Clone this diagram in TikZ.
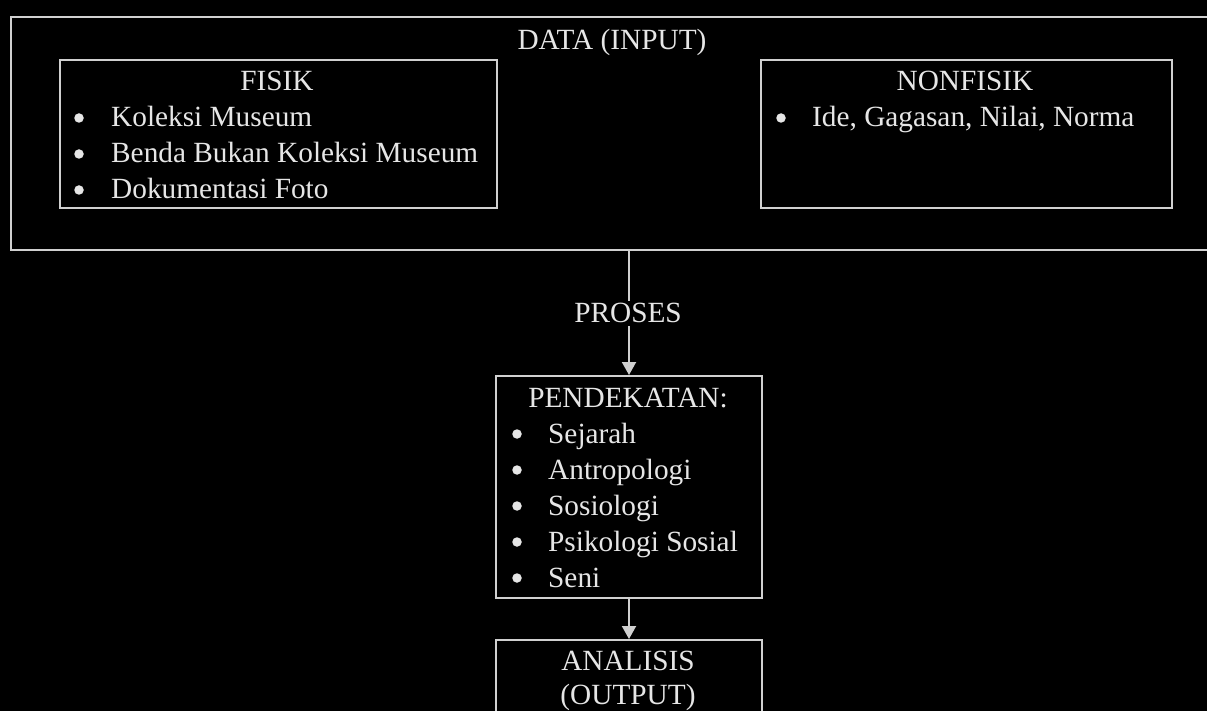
\documentclass[tikz,border=0pt]{standalone}
\usepackage{fontspec}
\setmainfont{Liberation Serif}
\usetikzlibrary{arrows.meta}
\definecolor{ln}{HTML}{D0D0D0}
\definecolor{tx}{HTML}{E6E6E6}
\tikzset{
  frame/.style={draw=ln, line width=2pt, inner sep=0pt, anchor=north west},
  txt/.style={text=tx, font=\fontsize{29.3}{36}\selectfont, inner sep=0pt},
  ctr/.style={txt, anchor=base},
  item/.style={txt, anchor=base west},
  dot/.style={circle, fill=tx, inner sep=0pt, minimum size=9.5pt},
  link/.style={draw=ln, line width=2pt},
  conn/.style={link, -{Triangle[width=14pt,length=13pt]}},
}
\begin{document}
\begin{tikzpicture}[x=1pt,y=-1pt]
\useasboundingbox[fill=black] (0,0) rectangle (1207,711);

% boxes
\node[frame, minimum width=1240pt, minimum height=233pt] (data) at (10,16) {};
\node[frame, minimum width=437pt, minimum height=148pt] (fisik) at (59,59) {};
\node[frame, minimum width=411pt, minimum height=148pt] (nonfisik) at (760,59) {};
\node[frame, minimum width=266pt, minimum height=222pt] (pend) at (495,375) {};
\node[frame, minimum width=266pt, minimum height=100pt] (anal) at (495,639) {};

% titles
\node[ctr] (datat) at (612,50) {DATA (INPUT)};
\node[ctr] (fisikt) at (277,91) {FISIK};
\node[ctr] (nonfisikt) at (965,91) {NONFISIK};
\node[ctr] (proses) at (628,323) {PROSES};
\node[ctr] (pendt) at (628,407) {PENDEKATAN:};
\node[ctr] (analt) at (628,670) {ANALISIS};
\node[ctr] (analt2) at (628,704) {(OUTPUT)};

% FISIK list
\foreach \t [count=\i] in {Koleksi Museum, Benda Bukan Koleksi Museum, Dokumentasi Foto} {
  \node[dot] (fb\i) at (79,82+36*\i) {};
  \node[item] (fi\i) at (111,91+36*\i) {\t};
}

% NONFISIK list
\node[dot] (nb1) at (781,118) {};
\node[item] (ni1) at (812,127) {Ide, Gagasan, Nilai, Norma};

% PENDEKATAN list
\foreach \t [count=\i] in {Sejarah, Antropologi, Sosiologi, Psikologi Sosial, Seni} {
  \node[dot] (pb\i) at (517,398+36*\i) {};
  \node[item] (pi\i) at (548,407+36*\i) {\t};
}

% connectors
\draw[link] (data.south -| pend.north) -- ([yshift=2pt]proses.north -| pend.north);
\draw[conn] ([yshift=-3pt]proses.south -| pend.north) -- (pend.north);
\draw[conn] (pend.south) -- (anal.north);
\end{tikzpicture}
\end{document}
